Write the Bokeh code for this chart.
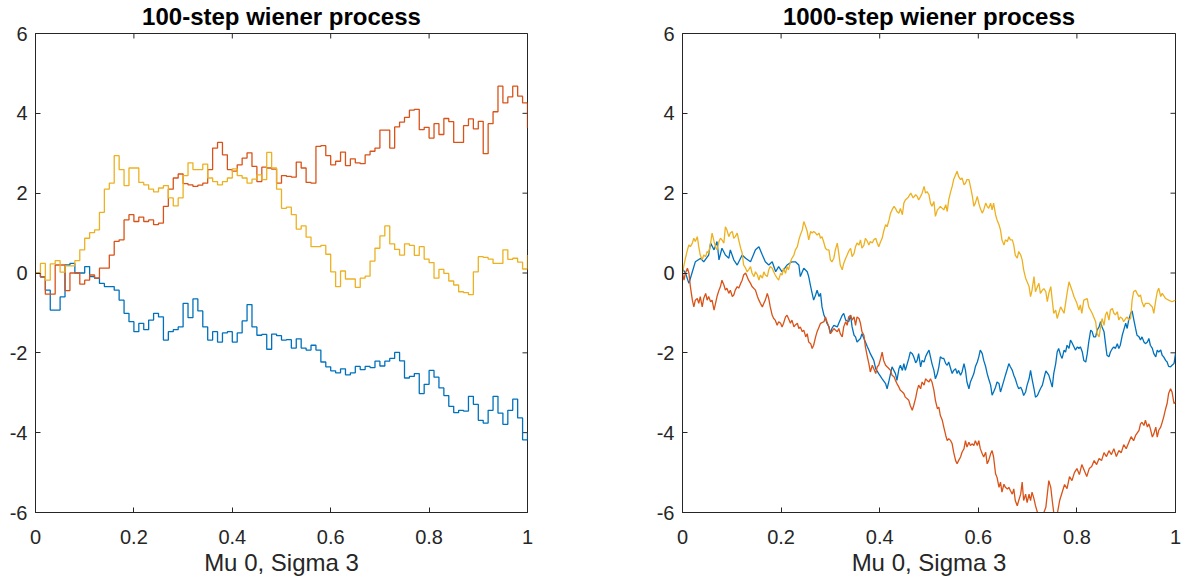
from math import pi
from bokeh.plotting import figure
from bokeh.layouts import row
from bokeh.models import Range1d, FixedTicker, CustomJSTickFormatter
from bokeh.embed import file_html
from bokeh.resources import INLINE

# ---------------- data: 100-step process (values at t = 0, 0.01, ..., 1) ----------------
t100 = [i / 100 for i in range(101)]
blue_100 = [0.0, -0.1, -0.43, -0.93, -0.93, -0.6, 0.2, 0.24, 0.0, 0.0,
            0.16, -0.09, -0.13, -0.26, -0.34, -0.34, -0.43, -0.68, -1.01, -1.22,
            -1.47, -1.26, -1.42, -1.18, -1.01, -1.1, -1.68, -1.47, -1.42, -1.35,
            -0.76, -1.12, -0.65, -0.95, -1.35, -1.68, -1.47, -1.73, -1.5, -1.47,
            -1.73, -1.5, -1.2, -0.79, -1.35, -1.56, -1.54, -1.91, -1.53, -1.57,
            -1.68, -1.67, -1.88, -1.65, -1.88, -1.93, -1.81, -1.93, -2.23, -2.35,
            -2.45, -2.5, -2.4, -2.55, -2.5, -2.34, -2.42, -2.34, -2.37, -2.21,
            -2.33, -2.21, -2.14, -1.99, -2.2, -2.63, -2.59, -2.52, -3.02, -2.79,
            -2.44, -2.61, -2.88, -3.07, -3.34, -3.5, -3.44, -3.46, -3.09, -3.29,
            -3.69, -3.76, -3.44, -3.09, -3.51, -3.79, -3.44, -3.16, -3.63, -4.18,
            -3.99]
red_100 = [0.0, -0.09, -0.53, -0.53, 0.2, 0.2, -0.44, 0.0, 0.0, -0.28,
           -0.18, -0.05, -0.13, 0.12, 0.12, 0.45, 0.79, 0.83, 1.33, 1.46,
           1.29, 1.4, 1.29, 1.33, 1.21, 1.25, 1.67, 2.1, 2.38, 2.48,
           2.24, 2.21, 2.17, 2.2, 2.25, 2.59, 3.13, 3.27, 2.96, 2.59,
           2.55, 2.71, 2.88, 3.01, 2.67, 2.29, 2.65, 2.63, 2.6, 2.25,
           2.44, 2.42, 2.4, 2.78, 2.63, 2.27, 2.25, 3.17, 3.19, 2.94,
           2.71, 2.8, 3.03, 2.69, 2.86, 2.76, 2.74, 2.96, 3.05, 3.13,
           3.58, 3.58, 3.13, 3.66, 3.78, 3.9, 4.08, 4.1, 3.59, 3.65,
           3.38, 3.74, 3.47, 3.87, 3.79, 3.27, 3.27, 3.69, 3.86, 3.61,
           3.8, 2.99, 3.74, 4.04, 4.68, 4.26, 4.41, 4.68, 4.43, 4.26,
           3.63]
yellow_100 = [0.0, 0.24, -0.18, 0.23, 0.31, 0.02, 0.18, 0.18, 0.31, 0.58,
              0.87, 1.01, 1.08, 1.52, 2.1, 2.25, 2.94, 2.59, 2.19, 2.63,
              2.63, 2.27, 2.21, 2.1, 2.03, 2.13, 2.19, 1.88, 1.68, 1.88,
              2.44, 2.76, 2.59, 2.59, 2.73, 2.38, 2.29, 2.21, 2.29, 2.38,
              2.61, 2.44, 2.38, 2.25, 2.35, 2.46, 2.34, 3.02, 2.63, 2.1,
              1.62, 1.65, 1.46, 1.1, 1.18, 0.9, 0.66, 0.66, 0.69, 0.47,
              0.03, -0.34, 0.05, -0.15, -0.15, -0.36, -0.13, -0.08, 0.3, 0.62,
              0.93, 1.18, 0.73, 0.59, 0.45, 0.73, 0.69, 0.44, 0.66, 0.35,
              0.26, -0.13, 0.09, -0.01, -0.2, -0.3, -0.47, -0.49, -0.54, 0.03,
              0.41, 0.39, 0.35, 0.24, 0.24, 0.58, 0.34, 0.37, 0.27, 0.1,
              0.45]

# ---------------- data: 1000-step process, (t, value) ----------------
blue_1000 = [
    (0.000, 0.10), (0.006, 0.0), (0.013, -0.26), (0.020, 0.03), (0.026, 0.28), (0.037, 0.37),
    (0.043, 0.28), (0.053, 0.45), (0.057, 0.75), (0.064, 0.58), (0.070, 0.79), (0.074, 0.33),
    (0.080, 0.62), (0.087, 0.45), (0.094, 0.37), (0.097, 0.58), (0.104, 0.33), (0.111, 0.20),
    (0.121, 0.45), (0.128, 0.37), (0.138, 0.28), (0.148, 0.58), (0.155, 0.66), (0.162, 0.45),
    (0.168, 0.28), (0.175, 0.20), (0.182, 0.28), (0.189, 0.03), (0.195, 0.16), (0.202, 0.03),
    (0.212, 0.20), (0.222, 0.28), (0.229, 0.28), (0.236, 0.20), (0.239, -0.09), (0.246, 0.12),
    (0.253, 0.03), (0.256, -0.09), (0.260, -0.34), (0.263, -0.51), (0.266, -0.68), (0.270, -0.55),
    (0.273, -0.43), (0.277, -0.59), (0.280, -0.51), (0.283, -0.85), (0.287, -1.06), (0.290, -1.14),
    (0.293, -1.26), (0.297, -1.35), (0.300, -1.52), (0.303, -1.39), (0.307, -1.31), (0.314, -1.35),
    (0.317, -1.26), (0.324, -1.06), (0.327, -1.01), (0.331, -1.18), (0.337, -1.22), (0.341, -1.06),
    (0.344, -1.35), (0.348, -1.56), (0.351, -1.60), (0.354, -1.73), (0.361, -1.64), (0.364, -1.52),
    (0.371, -1.73), (0.375, -1.85), (0.378, -1.93), (0.381, -2.02), (0.388, -2.19), (0.392, -2.40),
    (0.398, -2.52), (0.405, -2.65), (0.412, -2.77), (0.415, -2.90), (0.419, -2.69), (0.422, -2.52),
    (0.425, -2.35), (0.432, -2.52), (0.435, -2.69), (0.439, -2.40), (0.442, -2.31), (0.446, -2.44),
    (0.449, -2.27), (0.452, -2.44), (0.459, -2.14), (0.462, -1.98), (0.466, -2.02), (0.469, -2.10),
    (0.473, -2.25), (0.476, -2.19), (0.479, -2.02), (0.483, -2.35), (0.486, -2.19), (0.490, -2.23),
    (0.493, -2.10), (0.496, -2.02), (0.500, -1.93), (0.503, -2.10), (0.506, -2.27), (0.510, -2.44),
    (0.513, -2.65), (0.517, -2.52), (0.520, -2.35), (0.523, -2.10), (0.527, -2.14), (0.530, -2.14),
    (0.534, -2.27), (0.537, -2.31), (0.540, -2.23), (0.544, -2.40), (0.547, -2.52), (0.550, -2.44),
    (0.554, -2.40), (0.557, -2.52), (0.560, -2.44), (0.564, -2.56), (0.567, -2.48), (0.571, -2.27),
    (0.574, -2.44), (0.577, -2.73), (0.581, -2.90), (0.584, -2.73), (0.588, -2.61), (0.591, -2.52),
    (0.594, -2.35), (0.598, -2.23), (0.601, -2.10), (0.604, -1.93), (0.608, -2.02), (0.611, -2.19),
    (0.615, -2.35), (0.618, -2.52), (0.621, -2.65), (0.625, -2.81), (0.628, -3.06), (0.631, -2.98),
    (0.635, -2.86), (0.638, -2.73), (0.642, -2.77), (0.645, -2.98), (0.648, -2.86), (0.652, -2.69),
    (0.655, -2.56), (0.659, -2.40), (0.662, -2.27), (0.665, -2.35), (0.669, -2.44), (0.672, -2.56),
    (0.675, -2.65), (0.679, -2.81), (0.682, -2.90), (0.686, -2.86), (0.689, -2.94), (0.692, -3.07),
    (0.696, -2.98), (0.699, -2.81), (0.703, -2.65), (0.706, -2.44), (0.709, -2.65), (0.713, -2.90),
    (0.716, -3.11), (0.720, -3.07), (0.723, -2.98), (0.726, -2.90), (0.730, -2.81), (0.733, -2.65),
    (0.737, -2.45), (0.743, -2.56), (0.750, -2.86), (0.753, -2.52), (0.757, -2.27), (0.760, -1.98),
    (0.763, -1.89), (0.767, -2.06), (0.770, -2.14), (0.774, -1.93), (0.777, -1.98), (0.780, -1.81),
    (0.784, -1.89), (0.787, -1.68), (0.791, -1.77), (0.794, -1.85), (0.797, -1.93), (0.801, -1.85),
    (0.804, -1.89), (0.807, -1.85), (0.811, -1.98), (0.814, -2.19), (0.818, -2.23), (0.821, -2.02),
    (0.824, -1.73), (0.828, -1.43), (0.831, -1.47), (0.834, -1.60), (0.838, -1.60), (0.841, -1.43),
    (0.845, -1.35), (0.848, -1.22), (0.851, -1.35), (0.855, -1.47), (0.858, -1.77), (0.861, -2.06),
    (0.865, -2.10), (0.868, -1.98), (0.872, -1.89), (0.875, -1.85), (0.878, -1.89), (0.882, -1.77),
    (0.885, -1.89), (0.888, -1.81), (0.892, -1.56), (0.895, -1.43), (0.899, -1.26), (0.902, -1.39),
    (0.905, -1.18), (0.909, -1.01), (0.912, -0.95), (0.915, -1.14), (0.919, -1.39), (0.922, -1.56),
    (0.926, -1.60), (0.929, -1.68), (0.932, -1.60), (0.936, -1.73), (0.939, -1.77), (0.943, -1.73),
    (0.946, -1.64), (0.949, -1.81), (0.953, -1.89), (0.956, -2.02), (0.960, -2.10), (0.963, -1.93),
    (0.966, -1.98), (0.970, -1.93), (0.973, -2.06), (0.976, -2.10), (0.980, -2.19), (0.983, -2.23),
    (0.986, -2.34), (0.990, -2.35), (0.993, -2.31), (0.997, -2.27), (1.000, -2.02)]

red_1000 = [
    (0.000, 0.0), (0.003, -0.18), (0.006, 0.0), (0.010, 0.12), (0.013, 0.0), (0.016, -0.34),
    (0.020, -0.68), (0.023, -0.85), (0.026, -0.68), (0.030, -0.64), (0.033, -0.76), (0.036, -0.59),
    (0.040, -0.85), (0.043, -0.64), (0.047, -0.51), (0.050, -0.68), (0.053, -0.59), (0.057, -0.72),
    (0.060, -0.68), (0.064, -0.93), (0.067, -0.76), (0.070, -0.59), (0.074, -0.43), (0.077, -0.34),
    (0.080, -0.18), (0.084, -0.30), (0.087, -0.43), (0.090, -0.38), (0.094, -0.51), (0.097, -0.43),
    (0.101, -0.59), (0.104, -0.55), (0.107, -0.43), (0.111, -0.34), (0.114, -0.38), (0.118, -0.26),
    (0.121, -0.18), (0.124, -0.05), (0.128, 0.0), (0.131, -0.09), (0.134, -0.18), (0.138, -0.26),
    (0.141, -0.34), (0.148, -0.43), (0.152, -0.59), (0.155, -0.68), (0.158, -0.76), (0.162, -0.85),
    (0.165, -0.76), (0.168, -0.68), (0.172, -0.51), (0.175, -0.64), (0.178, -0.85), (0.182, -1.06),
    (0.185, -1.14), (0.188, -1.18), (0.192, -1.31), (0.195, -1.22), (0.199, -1.26), (0.202, -1.35),
    (0.205, -1.26), (0.209, -1.10), (0.212, -1.06), (0.215, -1.14), (0.219, -1.26), (0.222, -1.18),
    (0.226, -1.35), (0.229, -1.30), (0.233, -1.26), (0.236, -1.39), (0.239, -1.35), (0.243, -1.47),
    (0.246, -1.43), (0.250, -1.60), (0.253, -1.52), (0.256, -1.73), (0.260, -1.77), (0.263, -1.89),
    (0.266, -1.81), (0.270, -1.60), (0.273, -1.47), (0.277, -1.35), (0.280, -1.26), (0.287, -1.22),
    (0.290, -1.10), (0.293, -1.22), (0.297, -1.35), (0.300, -1.52), (0.303, -1.47), (0.307, -1.39),
    (0.310, -1.43), (0.314, -1.47), (0.317, -1.39), (0.320, -1.52), (0.324, -1.60), (0.327, -1.35),
    (0.331, -1.22), (0.334, -1.31), (0.337, -1.10), (0.341, -1.06), (0.344, -1.18), (0.348, -1.10),
    (0.351, -1.31), (0.354, -1.10), (0.358, -1.14), (0.361, -1.26), (0.364, -1.47), (0.368, -1.56),
    (0.371, -1.85), (0.375, -2.10), (0.378, -2.27), (0.381, -2.48), (0.385, -2.31), (0.388, -2.40),
    (0.392, -2.52), (0.395, -2.35), (0.398, -2.31), (0.402, -2.14), (0.405, -1.98), (0.408, -2.19),
    (0.412, -2.31), (0.415, -2.35), (0.419, -2.40), (0.422, -2.44), (0.425, -2.56), (0.429, -2.60),
    (0.432, -2.69), (0.435, -2.77), (0.439, -2.86), (0.442, -2.94), (0.446, -2.98), (0.449, -3.02),
    (0.452, -3.11), (0.459, -3.19), (0.462, -3.32), (0.466, -3.44), (0.469, -3.32), (0.473, -3.13),
    (0.476, -2.94), (0.479, -2.81), (0.483, -2.90), (0.486, -2.73), (0.490, -2.81), (0.493, -2.65),
    (0.496, -2.69), (0.500, -2.73), (0.503, -2.65), (0.506, -2.73), (0.510, -2.94), (0.513, -3.19),
    (0.517, -3.40), (0.520, -3.36), (0.523, -3.57), (0.527, -3.69), (0.530, -3.86), (0.534, -4.07),
    (0.537, -4.20), (0.540, -4.15), (0.544, -4.20), (0.547, -4.28), (0.550, -4.49), (0.554, -4.70),
    (0.557, -4.78), (0.560, -4.70), (0.564, -4.61), (0.567, -4.49), (0.571, -4.40), (0.574, -4.20),
    (0.577, -4.36), (0.581, -4.24), (0.584, -4.32), (0.588, -4.28), (0.591, -4.32), (0.594, -4.20),
    (0.598, -4.32), (0.601, -4.20), (0.604, -4.40), (0.608, -4.53), (0.611, -4.61), (0.615, -4.49),
    (0.618, -4.78), (0.621, -4.70), (0.625, -4.53), (0.628, -4.45), (0.631, -4.61), (0.635, -5.03),
    (0.638, -5.12), (0.642, -5.37), (0.645, -5.24), (0.648, -5.49), (0.652, -5.29), (0.655, -5.37),
    (0.659, -5.41), (0.662, -5.37), (0.665, -5.45), (0.669, -5.54), (0.672, -5.41), (0.675, -5.70),
    (0.679, -5.83), (0.682, -5.70), (0.686, -5.54), (0.689, -5.24), (0.692, -5.70), (0.696, -5.54),
    (0.699, -5.75), (0.703, -5.54), (0.706, -5.70), (0.709, -5.49), (0.713, -5.66), (0.716, -5.83),
    (0.720, -6.00), (0.723, -6.12), (0.726, -6.20), (0.730, -6.12), (0.733, -6.00), (0.737, -5.87),
    (0.740, -5.54), (0.743, -5.20), (0.747, -5.37), (0.750, -5.70), (0.753, -6.00), (0.757, -6.15),
    (0.760, -6.05), (0.765, -5.70), (0.770, -5.50), (0.775, -5.30), (0.780, -5.40), (0.785, -5.10),
    (0.790, -5.20), (0.795, -5.00), (0.800, -4.90), (0.805, -5.05), (0.810, -4.80), (0.815, -4.95),
    (0.820, -5.10), (0.825, -4.90), (0.830, -4.85), (0.835, -4.70), (0.840, -4.80), (0.845, -4.65),
    (0.850, -4.70), (0.855, -4.50), (0.860, -4.60), (0.865, -4.45), (0.870, -4.55), (0.875, -4.40),
    (0.880, -4.60), (0.885, -4.45), (0.890, -4.50), (0.895, -4.30), (0.900, -4.40), (0.905, -4.25),
    (0.910, -4.10), (0.915, -4.20), (0.919, -4.07), (0.926, -3.94), (0.929, -3.78), (0.932, -3.74),
    (0.936, -3.82), (0.939, -3.69), (0.943, -3.86), (0.946, -3.78), (0.949, -3.90), (0.953, -4.11),
    (0.956, -4.03), (0.960, -3.86), (0.963, -4.11), (0.966, -3.94), (0.970, -3.86), (0.973, -3.74),
    (0.976, -3.61), (0.980, -3.40), (0.983, -3.27), (0.986, -3.02), (0.990, -2.90), (0.993, -2.98),
    (0.997, -3.27), (1.000, -3.23)]

yellow_1000 = [
    (0.000, 0.0), (0.003, 0.20), (0.006, 0.37), (0.010, 0.58), (0.013, 0.70), (0.016, 0.66),
    (0.020, 0.75), (0.023, 0.87), (0.026, 0.79), (0.030, 0.91), (0.033, 0.66), (0.036, 0.45),
    (0.040, 0.33), (0.043, 0.45), (0.047, 0.41), (0.050, 0.54), (0.053, 0.50), (0.057, 0.75),
    (0.060, 1.00), (0.064, 0.79), (0.067, 0.66), (0.070, 0.58), (0.074, 0.79), (0.077, 0.87),
    (0.080, 0.83), (0.084, 0.75), (0.087, 1.16), (0.090, 1.08), (0.094, 0.91), (0.097, 1.00),
    (0.101, 1.04), (0.104, 0.87), (0.107, 0.91), (0.111, 1.00), (0.114, 0.83), (0.118, 0.62),
    (0.121, 0.50), (0.124, 0.20), (0.128, 0.12), (0.131, 0.03), (0.134, 0.08), (0.138, 0.16),
    (0.141, 0.0), (0.145, -0.09), (0.148, 0.03), (0.152, -0.05), (0.155, -0.18), (0.158, -0.05),
    (0.162, -0.13), (0.165, 0.03), (0.168, -0.05), (0.172, -0.09), (0.175, 0.08), (0.178, 0.16),
    (0.182, 0.12), (0.185, 0.03), (0.188, -0.05), (0.192, -0.13), (0.195, -0.18), (0.199, -0.01),
    (0.202, -0.05), (0.205, 0.12), (0.209, -0.01), (0.212, 0.16), (0.215, 0.08), (0.219, 0.28),
    (0.222, 0.37), (0.226, 0.45), (0.229, 0.58), (0.233, 0.66), (0.236, 0.83), (0.239, 0.95),
    (0.243, 1.08), (0.246, 1.29), (0.250, 1.16), (0.253, 1.04), (0.256, 0.83), (0.260, 1.04),
    (0.263, 1.00), (0.266, 1.04), (0.270, 1.00), (0.273, 0.95), (0.277, 1.00), (0.280, 0.87),
    (0.283, 0.91), (0.287, 0.75), (0.290, 0.62), (0.293, 0.58), (0.297, 0.58), (0.300, 0.33),
    (0.303, 0.28), (0.307, 0.37), (0.310, 0.58), (0.314, 0.75), (0.317, 0.49), (0.320, 0.20),
    (0.324, 0.08), (0.327, 0.24), (0.331, 0.37), (0.334, 0.45), (0.337, 0.54), (0.341, 0.62),
    (0.344, 0.41), (0.348, 0.49), (0.351, 0.66), (0.354, 0.75), (0.358, 0.70), (0.361, 0.83),
    (0.364, 0.62), (0.368, 0.70), (0.371, 0.87), (0.375, 0.79), (0.378, 0.70), (0.381, 0.79),
    (0.385, 0.75), (0.388, 0.83), (0.392, 0.87), (0.395, 0.75), (0.398, 0.66), (0.402, 0.79),
    (0.405, 0.87), (0.408, 1.04), (0.412, 1.21), (0.415, 1.16), (0.419, 1.33), (0.422, 1.50),
    (0.425, 1.58), (0.429, 1.67), (0.432, 1.62), (0.435, 1.54), (0.439, 1.50), (0.442, 1.62),
    (0.446, 1.46), (0.449, 1.75), (0.452, 1.83), (0.458, 1.90), (0.463, 2.00), (0.468, 1.88),
    (0.473, 1.96), (0.476, 1.92), (0.479, 1.83), (0.483, 1.92), (0.486, 2.00), (0.490, 2.17),
    (0.493, 2.00), (0.496, 2.04), (0.500, 1.96), (0.503, 1.75), (0.506, 1.67), (0.510, 1.79),
    (0.513, 1.42), (0.517, 1.58), (0.520, 1.62), (0.523, 1.67), (0.527, 1.62), (0.530, 1.58),
    (0.534, 1.71), (0.537, 1.54), (0.540, 1.83), (0.544, 2.04), (0.547, 2.17), (0.550, 2.34),
    (0.554, 2.46), (0.557, 2.55), (0.560, 2.42), (0.564, 2.34), (0.567, 2.38), (0.571, 2.21),
    (0.574, 2.25), (0.577, 2.34), (0.581, 2.34), (0.584, 2.17), (0.588, 1.92), (0.591, 1.67),
    (0.594, 1.75), (0.598, 1.92), (0.601, 1.75), (0.604, 1.62), (0.608, 1.50), (0.611, 1.58),
    (0.615, 1.75), (0.618, 1.67), (0.621, 1.62), (0.625, 1.75), (0.628, 1.58), (0.631, 1.75),
    (0.635, 1.46), (0.638, 1.33), (0.642, 1.21), (0.645, 1.08), (0.648, 0.83), (0.652, 0.70),
    (0.655, 0.83), (0.659, 0.79), (0.662, 0.91), (0.665, 0.83), (0.669, 0.83), (0.672, 0.70),
    (0.675, 0.45), (0.679, 0.37), (0.682, 0.54), (0.686, 0.45), (0.689, 0.33), (0.692, 0.08),
    (0.696, -0.13), (0.699, -0.22), (0.703, -0.34), (0.706, -0.59), (0.709, -0.43), (0.713, -0.09),
    (0.716, -0.47), (0.720, -0.34), (0.723, -0.26), (0.726, -0.51), (0.730, -0.43), (0.733, -0.39),
    (0.737, -0.47), (0.740, -0.72), (0.743, -0.51), (0.747, -0.34), (0.750, -0.68), (0.753, -1.01),
    (0.757, -0.93), (0.760, -1.14), (0.767, -0.85), (0.774, -1.01), (0.780, -0.51), (0.784, -0.22),
    (0.790, -0.43), (0.794, -0.59), (0.800, -0.76), (0.804, -0.93), (0.807, -0.80), (0.810, -1.01),
    (0.814, -0.68), (0.821, -0.64), (0.824, -0.85), (0.831, -1.01), (0.838, -1.22), (0.841, -1.52),
    (0.845, -1.60), (0.848, -1.35), (0.851, -1.14), (0.855, -1.31), (0.858, -1.05), (0.861, -0.97),
    (0.865, -1.18), (0.868, -0.93), (0.872, -0.89), (0.875, -1.01), (0.878, -1.05), (0.882, -0.97),
    (0.885, -1.18), (0.888, -1.10), (0.892, -1.14), (0.895, -1.22), (0.899, -1.14), (0.902, -1.10),
    (0.905, -1.18), (0.909, -1.14), (0.912, -0.68), (0.915, -0.47), (0.919, -0.43), (0.922, -0.51),
    (0.926, -0.59), (0.929, -0.55), (0.932, -0.72), (0.936, -0.85), (0.939, -0.76), (0.946, -0.76),
    (0.953, -0.85), (0.956, -1.01), (0.960, -0.68), (0.963, -0.47), (0.966, -0.38), (0.970, -0.59),
    (0.973, -0.51), (0.980, -0.64), (0.986, -0.68), (0.993, -0.72), (1.000, -0.68)]

titles = ["100-step wiener process", "1000-step wiener process"]
xlabel = "Mu 0, Sigma 3"
x_ticks = [0, 0.2, 0.4, 0.6, 0.8, 1]
y_ticks = [-6, -4, -2, 0, 2, 4, 6]

COLORS = ["#0072BD", "#D95319", "#EDB120"]
TXT = "#262626"
FONT = "Liberation Sans"
X0, X1, Y0, Y1 = 0, 1, -6, 6


def style_axis(ax, ticks, fmt):
    ax.ticker = FixedTicker(ticks=ticks)
    ax.formatter = fmt
    ax.major_tick_in = 5
    ax.major_tick_out = 0
    ax.minor_tick_line_color = None
    ax.axis_line_color = TXT
    ax.major_tick_line_color = TXT
    ax.axis_line_width = 1
    ax.major_label_text_font = FONT
    ax.major_label_text_color = TXT
    ax.major_label_text_font_size = "20px"


def make_fig(title, width, border_right):
    p = figure(width=width, height=583,
               x_range=Range1d(X0, X1), y_range=Range1d(Y0, Y1),
               output_backend="svg", toolbar_location=None,
               min_border_left=35, min_border_right=border_right,
               min_border_top=33, min_border_bottom=71,
               background_fill_color="white", border_fill_color="white")
    p.grid.visible = False
    p.outline_line_color = TXT
    p.title.text = title
    p.title.align = "center"
    p.title.vertical_align = "top"
    p.title.text_font = FONT
    p.title.text_font_size = "24px"
    p.title.text_font_style = "bold"
    p.title.text_color = "black"
    p.title.standoff = 4
    xfmt = CustomJSTickFormatter(code="return tick.toFixed(1).replace(/\\.0$/, '');")
    yfmt = CustomJSTickFormatter(code="return String(tick);")
    style_axis(p.xaxis[0], x_ticks, xfmt)
    p.xaxis[0].major_label_standoff = 17
    p.xaxis[0].axis_label = xlabel
    p.xaxis[0].axis_label_text_font = FONT
    p.xaxis[0].axis_label_text_font_size = "24px"
    p.xaxis[0].axis_label_text_font_style = "normal"
    p.xaxis[0].axis_label_text_color = TXT
    p.xaxis[0].axis_label_standoff = 2
    style_axis(p.yaxis[0], y_ticks, yfmt)
    p.yaxis[0].major_label_standoff = 8
    # inward ticks on the top and right edges of the box (half of each dash is clipped away)
    p.scatter(x=x_ticks, y=[Y1] * len(x_ticks), marker="dash", angle=pi / 2, size=10,
              line_color=TXT, line_width=1)
    p.scatter(x=[X1] * len(y_ticks), y=y_ticks, marker="dash", size=10,
              line_color=TXT, line_width=1)
    return p


p1 = make_fig(titles[0], 647, 120)
for vals, c in zip([blue_100, red_100, yellow_100], COLORS):
    p1.step(x=t100, y=vals, mode="after", line_color=c, line_width=1.3)

p2 = make_fig(titles[1], 536, 8)
for series, c in zip([blue_1000, red_1000, yellow_1000], COLORS):
    ts = [a for a, b in series]
    vs = [b for a, b in series]
    p2.line(x=ts, y=vs, line_color=c, line_width=1.3)

layout = row(p1, p2)
open("out.html", "w").write(file_html(layout, INLINE))
